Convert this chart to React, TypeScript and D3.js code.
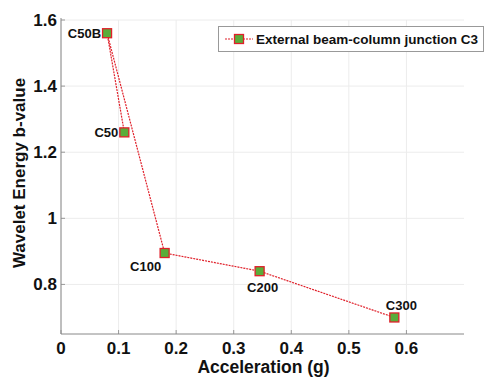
import React from "react";
import * as d3 from "d3";

const labels = ["C50", "C50B", "C100", "C200", "C300"];
const accel = [0.11, 0.08, 0.18, 0.345, 0.579];
const bValue = [1.26, 1.56, 0.895, 0.84, 0.70];
const xTicks = [0, 0.1, 0.2, 0.3, 0.4, 0.5, 0.6];
const yTicks = [0.8, 1, 1.2, 1.4, 1.6];
const seriesName = "External beam-column junction C3";

const W = 484, H = 377;
const M = { left: 61, right: 464, top: 20, bottom: 334 };
const FONT = "'Liberation Sans', Arial, sans-serif";

export default function App() {
  const x = d3.scaleLinear().domain([0, 0.7]).range([M.left, M.right]);
  const y = d3.scaleLinear().domain([0.65, 1.6]).range([M.bottom, M.top]);
  const pts = labels.map((l, i) => ({ l, x: accel[i], y: bValue[i] }));
  const line = d3.line<any>().x(d => x(d.x)).y(d => y(d.y));
  const labelPos: Record<string, { dx: number; dy: number; anchor: string }> = {
    C50B: { dx: -6, dy: 5, anchor: "end" },
    C50: { dx: -6, dy: 5, anchor: "end" },
    C100: { dx: -19, dy: 18, anchor: "middle" },
    C200: { dx: 3, dy: 21, anchor: "middle" },
    C300: { dx: 7, dy: -7, anchor: "middle" },
  };
  const ms = 9;
  return (
    <svg width={W} height={H} style={{ position: "absolute", left: 0, top: 0, background: "#fff" }} fontFamily={FONT}>
      {xTicks.map(t => (
        <line key={"gx" + t} x1={x(t)} x2={x(t)} y1={M.top} y2={M.bottom} stroke="#ececec" strokeWidth={1} />
      ))}
      {yTicks.map(t => (
        <line key={"gy" + t} x1={M.left} x2={M.right} y1={y(t)} y2={y(t)} stroke="#ececec" strokeWidth={1} />
      ))}
      {xTicks.map(t => (
        <line key={"kx" + t} x1={x(t)} x2={x(t)} y1={M.bottom} y2={M.bottom - 4} stroke="#999" strokeWidth={1} />
      ))}
      {yTicks.map(t => (
        <line key={"ky" + t} x1={M.left} x2={M.left + 4} y1={y(t)} y2={y(t)} stroke="#999" strokeWidth={1} />
      ))}
      <line x1={M.left} x2={M.left} y1={M.top - 2} y2={M.bottom} stroke="#888" strokeWidth={1} />
      <line x1={M.left} x2={M.right} y1={M.bottom} y2={M.bottom} stroke="#888" strokeWidth={1} />
      {xTicks.map(t => (
        <text key={"tx" + t} x={x(t)} y={353.5} textAnchor="middle" fontSize={17} fontWeight="bold" fill="#111">
          {d3.format("~g")(t)}
        </text>
      ))}
      {yTicks.map(t => (
        <text key={"ty" + t} x={57} y={y(t) + 6} textAnchor="end" fontSize={17} fontWeight="bold" fill="#111">
          {d3.format("~g")(t)}
        </text>
      ))}
      <text x={(M.left + M.right) / 2 + 1} y={372.5} textAnchor="middle" fontSize={17.5} fontWeight="bold" fill="#111">
        Acceleration (g)
      </text>
      <text transform={`translate(25,173) rotate(-90)`} textAnchor="middle" fontSize={17} fontWeight="bold" fill="#111">
        Wavelet Energy b-value
      </text>
      <path d={line(pts) || ""} fill="none" stroke="#e0202a" strokeWidth={1.2} strokeDasharray="2,1" />
      {pts.map(p => (
        <rect key={"m" + p.l} x={x(p.x) - ms / 2} y={y(p.y) - ms / 2} width={ms} height={ms} fill="#5aad3a" stroke="#e0202a" strokeWidth={1.3} />
      ))}
      {pts.map(p => {
        const lp = labelPos[p.l];
        return (
          <text key={"l" + p.l} x={x(p.x) + lp.dx} y={y(p.y) + lp.dy} textAnchor={lp.anchor} fontSize={13} fontWeight="bold" fill="#111">
            {p.l}
          </text>
        );
      })}
      <rect x={218.5} y={26.5} width={265} height={25} fill="#fff" stroke="#999" strokeWidth={1} />
      <line x1={225} x2={253} y1={39} y2={39} stroke="#e0202a" strokeWidth={1.2} strokeDasharray="2,1" />
      <rect x={239 - ms / 2} y={39 - ms / 2} width={ms} height={ms} fill="#5aad3a" stroke="#e0202a" strokeWidth={1.3} />
      <text x={256} y={44} fontSize={13.5} fontWeight="bold" fill="#111">{seriesName}</text>
    </svg>
  );
}
